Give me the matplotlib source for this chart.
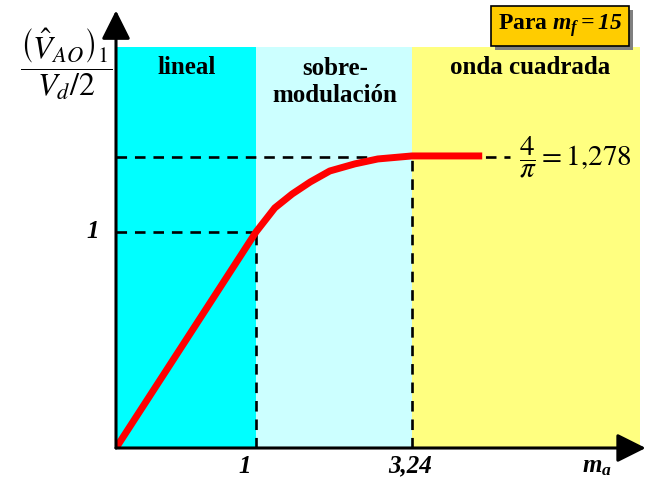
import numpy as np
import matplotlib
matplotlib.use("Agg")
import matplotlib.pyplot as plt
import matplotlib.patheffects as pe

plt.rcParams["font.family"] = ["Liberation Serif", "DejaVu Serif"]
plt.rcParams["mathtext.fontset"] = "custom"
plt.rcParams["mathtext.rm"] = "Liberation Serif:italic:bold"
plt.rcParams["mathtext.it"] = "Liberation Serif:italic:bold"

# amplitude of the fundamental vs modulation index (m_f = 15)
ma = [0.0, 1.0, 1.27, 1.52, 1.78, 2.06, 2.42, 2.75, 3.24, 4.25]
vao = [0.0, 1.0, 1.088, 1.139, 1.183, 1.223, 1.249, 1.267, 1.278, 1.278]

ma_lin = 1.0          # end of linear zone
ma_sq = 3.24          # start of square-wave zone
v_sq = 4 / np.pi      # 1.278
ma_max = 6.52
v_top = 1.676

# the axes are drawn schematically: piecewise linear stretch on both axes
xb = [0.0, 1.0, 3.24, 10.0]
xu = [0.0, 1.0, 2.114, 5.474]
yb = [0.0, 1.0, 1.278, 3.0]
yu = [0.0, 1.0, 1.352, 3.532]


def fx(x):
    return np.interp(x, xb, xu)


def ix(u):
    return np.interp(u, xu, xb)


def fy(y):
    return np.interp(y, yb, yu)


def iy(v):
    return np.interp(v, yu, yb)


fig = plt.figure(figsize=(6.49, 4.80), dpi=100)
ax = fig.add_axes([116 / 649, 32 / 480, 533 / 649, 440 / 480])
ax.set_xscale("function", functions=(fx, ix))
ax.set_yscale("function", functions=(fy, iy))
ax.set_xlim(0, 6.647)
ax.set_ylim(0, 1.819)
ax.set_xticks([])
ax.set_yticks([])
for s in ax.spines.values():
    s.set_visible(False)

# operating zones
ax.fill_between([0, ma_lin], 0, v_top, color="#00FFFF", lw=0)
ax.fill_between([ma_lin, ma_sq], 0, v_top, color="#CCFFFF", lw=0)
ax.fill_between([ma_sq, ma_max], 0, v_top, color="#FFFF80", lw=0)

# reference lines
dash = dict(color="black", lw=1.9, ls=(0, (4, 3)))
ax.plot([0, ma_lin], [1, 1], **dash)
ax.plot([ma_lin, ma_lin], [0, 1], **dash)
ax.plot([0, 4.65], [v_sq, v_sq], **dash)
ax.plot([ma_sq, ma_sq], [0, v_sq], **dash)

ax.plot(ma, vao, color="red", lw=5, solid_capstyle="butt", zorder=5)

# axes with arrow heads
arrow = dict(arrowstyle="-|>,head_length=0.8,head_width=0.4", lw=2.2,
             color="black", mutation_scale=22, shrinkA=0, shrinkB=0)
ax.annotate("", xy=(6.6, 0), xytext=(0, 0), arrowprops=arrow,
            annotation_clip=False, zorder=6)
ax.annotate("", xy=(0, 1.81), xytext=(0, -0.02), arrowprops=arrow,
            annotation_clip=False, zorder=6)

bold = dict(fontsize=18, fontweight="bold", ha="center", va="center")
ax.text(0.507, 1.6, "lineal", **bold)
ax.text(2.135, 1.548, "sobre-\nmodulación", linespacing=1.2, **bold)
ax.text(4.94, 1.6, "onda cuadrada", **bold)

tick = dict(fontsize=18, fontweight="bold", fontstyle="italic",
            ha="center", va="center", textcoords="offset points",
            annotation_clip=False)
ax.annotate("1", xy=(ma_lin, 0), xytext=(-8, -13), **tick)
ax.annotate("3,24", xy=(ma_sq, 0), xytext=(-1, -13), **tick)
ax.annotate(r"$m_a$", xy=(5.9, 0), xytext=(0, -13), **tick)
ax.annotate("1", xy=(0, 1), xytext=(-17, 0), **tick)

ax.text(4.78, v_sq, r"$\dfrac{4}{\pi} = 1{,}278$", fontsize=21,
        math_fontfamily="stix", ha="left", va="center")

fig.text(66 / 649, 1 - 64 / 480,
         r"$\dfrac{\left(\hat{V}_{AO}\right)_1}{V_d/2}$", fontsize=23,
         math_fontfamily="stix", ha="center", va="center")

box = fig.text(560 / 649, 1 - 26 / 480, r"Para $m_f{=}15$", fontsize=17,
               fontweight="bold", ha="center", va="center",
               bbox=dict(boxstyle="square,pad=0.28", fc="#FFCC00",
                         ec="black", lw=1.2))
box.get_bbox_patch().set_path_effects(
    [pe.SimplePatchShadow(offset=(3, -3), shadow_rgbFace="#808080", alpha=1),
     pe.Normal()])

fig.savefig("out.png", dpi=100)
